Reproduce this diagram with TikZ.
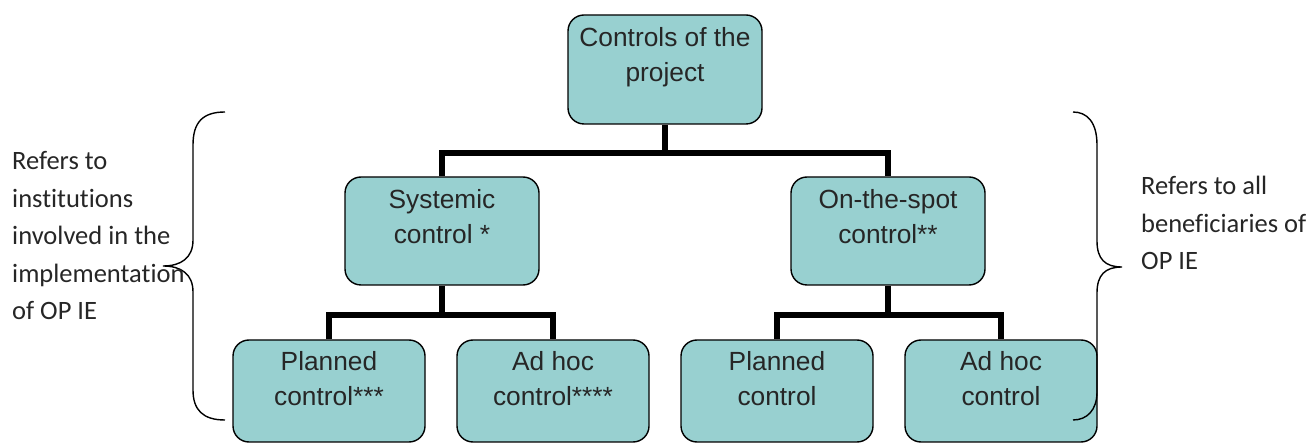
\documentclass[tikz,border=0pt]{standalone}
\usepackage{fontspec}
\setmainfont{Liberation Sans}
\newfontfamily\notefont[Ligatures=NoCommon]{Carlito}
\definecolor{boxfill}{RGB}{152,208,208}
\definecolor{txt}{RGB}{38,38,38}
\begin{document}
\begin{tikzpicture}[x=1pt,y=-1pt,
  cbox/.style={draw=black,line width=1.4pt,fill=boxfill,rounded corners=16pt,inner sep=0pt},
  ctext/.style={anchor=base,text=txt,font=\fontsize{26.3}{35}\selectfont,align=center,inner sep=0pt},
  note/.style={anchor=base west,text=txt,font=\notefont\fontsize{26.5}{37.5}\selectfont,align=left,inner sep=0pt},
  link/.style={line width=5.5pt},
  brace/.style={line width=1.4pt}]
\useasboundingbox (0,0) rectangle (1310,443);
% boxes
\node[cbox,minimum width=194pt,minimum height=109pt] (top) at (665,69.5) {};
\node[cbox,minimum width=194pt,minimum height=108pt] (sys) at (442,231) {};
\node[cbox,minimum width=194pt,minimum height=108pt] (spot) at (888,231) {};
\node[cbox,minimum width=192pt,minimum height=102pt] (p1) at (329,391) {};
\node[cbox,minimum width=192pt,minimum height=102pt] (a1) at (553,391) {};
\node[cbox,minimum width=192pt,minimum height=102pt] (p2) at (777,391) {};
\node[cbox,minimum width=192pt,minimum height=102pt] (a2) at (1001,391) {};
% texts (base anchor = baseline of last line)
\node[ctext] (ttop) at (665,82) {Controls of the\\project};
\node[ctext] (tsys) at (442,244) {Systemic\\control *};
\node[ctext] (tspot) at (888,244) {On-the-spot\\control**};
\node[ctext] (tp1) at (329,406) {Planned\\control***};
\node[ctext] (ta1) at (553,406) {Ad hoc\\control****};
\node[ctext] (tp2) at (777,406) {Planned\\control};
\node[ctext] (ta2) at (1001,406) {Ad hoc\\control};
% connectors
\coordinate (j1) at (665,153);
\coordinate (j2) at (442,315);
\coordinate (j3) at (888,315);
\draw[link] (top.south) -- (j1);
\draw[link] (sys.north) |- (j1) -| (spot.north);
\draw[link] (sys.south) -- (j2);
\draw[link] (p1.north) |- (j2) -| (a1.north);
\draw[link] (spot.south) -- (j3);
\draw[link] (p2.north) |- (j3) -| (a2.north);
% braces
\coordinate (lb1) at (225,112);
\coordinate (lb2) at (225,420);
\coordinate (lt) at (163,266);
\draw[brace] (lb1) .. controls (203,112) and (193,122) .. (193,145) -- (193,240)
  .. controls (193,258) and (181,266) .. (lt)
  .. controls (181,266) and (193,274) .. (193,292) -- (193,390)
  .. controls (193,410) and (203,420) .. (lb2);
\coordinate (rb1) at (1073,112);
\coordinate (rb2) at (1073,420);
\coordinate (rt) at (1122,267);
\draw[brace] (rb1) .. controls (1087,112) and (1097,122) .. (1097,145) -- (1097,241)
  .. controls (1097,259) and (1105,267) .. (rt)
  .. controls (1105,267) and (1097,275) .. (1097,293) -- (1097,392)
  .. controls (1097,410) and (1087,420) .. (rb2);
% notes
\node[note] (nl) at (12,320) {Refers to\\institutions\\involved in the\\implementation\\of OP IE};
\node[note] (nr) at (1141,270) {Refers to all\\beneficiaries of\\OP IE};
\end{tikzpicture}
\end{document}
